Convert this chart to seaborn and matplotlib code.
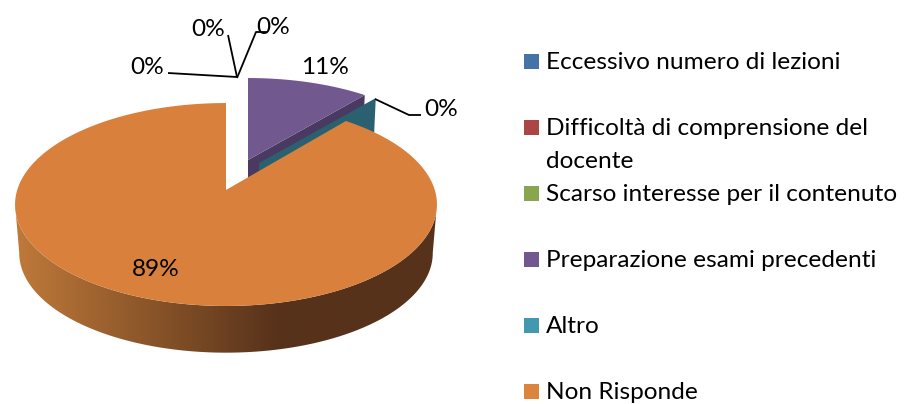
import numpy as np
import seaborn as sns
import matplotlib.pyplot as plt
from matplotlib.colors import LinearSegmentedColormap
from matplotlib.patches import Polygon, Rectangle

categories = ['Eccessivo numero di lezioni', 'Difficoltà di comprensione del\ndocente',
              'Scarso interesse per il contenuto', 'Preparazione esami precedenti',
              'Altro', 'Non Risponde']
percent = [0, 0, 0, 11, 0, 89]
colors = sns.color_palette(['#4572A7', '#AA4643', '#89A54E', '#71588F', '#4198AF', '#DB843D'])

sns.set_theme(style='white')
plt.rcParams['font.family'] = ['Lato', 'DejaVu Sans']

# pie geometry in pixels, the 3d look is a plain perspective squeeze
rx, ry, k = 208.8, 99.4, 0.143
drop, shrink = 49, 0.98
purple_apex = (248, 160)
teal_apex = (259, 163)
orange_apex = (226, 190)
small_r = 0.935
small_wide = 1.035


def project(apex, r, angle, scale=1.0, dz=0, wide=1.0):
    a = np.radians(angle)
    u, v = r * np.sin(a), r * np.cos(a)
    den = 1 + k * v
    return (apex[0] + wide * scale * rx * u / den,
            apex[1] + dz - scale * ry * v / den)


def rim(apex, r, a0, a1, scale=1.0, dz=0, wide=1.0):
    x, y = project(apex, r, np.linspace(a0, a1, 200), scale, dz, wide)
    return np.column_stack([x, y])


def wedge(apex, r, a0, a1, wide=1.0):
    return np.vstack([[apex], rim(apex, r, a0, a1, wide=wide)])


fig = plt.figure(figsize=(9.06, 4.04), dpi=100)
ax = fig.add_axes([0, 0, 1, 1])

starts = np.concatenate([[0], np.cumsum(percent)[:-1]]) * 3.6
ends = np.cumsum(percent) * 3.6

# purple slice, its wall first
p0, p1 = starts[3], ends[3]
edge_top = project(purple_apex, small_r, p1, wide=small_wide)
edge_low = project(purple_apex, small_r, p1, shrink, drop, small_wide)
ax.add_patch(Polygon([purple_apex, edge_top, edge_low,
                      (purple_apex[0], purple_apex[1] + drop)],
                     fc='#4A3960', ec='none', zorder=2))
ax.add_patch(Polygon(wedge(purple_apex, small_r, p0, p1, small_wide),
                     fc=colors[3], ec='none', zorder=3))

# the 0% slice only shows as a wall
t0 = starts[4]
t_top = project(teal_apex, small_r, t0, wide=small_wide)
t_low = project(teal_apex, small_r, t0, shrink, drop, small_wide)
ax.add_patch(Polygon([teal_apex, t_top, t_low, (teal_apex[0], teal_apex[1] + drop)],
                     fc='#2A6070', ec='none', zorder=4))

# orange wall with the gradient, from tangent to tangent
wall = np.vstack([rim(orange_apex, 1, 98, 262),
                  rim(orange_apex, 1, 262, 98, shrink, drop)])
wall_cmap = LinearSegmentedColormap.from_list('wall', ['#C07A3A', '#57321A'])
grad = np.clip(np.linspace(0, 1.6, 400), 0, 1).reshape(1, -1)
img = ax.imshow(grad, cmap=wall_cmap, extent=(14, 436, 404, 0), aspect='auto', zorder=5)
img.set_clip_path(Polygon(wall, transform=ax.transData))

# orange top
o0, o1 = starts[5], ends[5]
ax.add_patch(Polygon(wedge(orange_apex, 1, o0, o1), fc='#D9813C', ec='none', zorder=6))

# data labels and leaders
label_xy = [(147, 67), (208, 29), (273, 27), (325, 67), (441, 109), (156, 269)]
for v, (x, y) in zip(percent, label_xy):
    ax.text(x, y, f'{v}%', ha='center', va='center', fontsize=17.6, color='black', zorder=8)

leaders = [[(168, 73), (237, 77)],
           [(228, 35), (237, 77)],
           [(267, 32), (256, 32), (237, 78)],
           [(375, 99), (409, 115), (421, 115)]]
for pts in leaders:
    xs, ys = zip(*pts)
    ax.plot(xs, ys, color='black', lw=1.3, zorder=7, solid_capstyle='butt')

# legend
legend_y = [61.5, 127.5, 193.5, 259.5, 325.5, 391.5]
for name, c, y in zip(categories, colors, legend_y):
    ax.add_patch(Rectangle((524, y - 7.5), 15, 15, fc=c, ec='none', zorder=8))
    lines = name.split('\n')
    for i, line in enumerate(lines):
        ax.text(546, y + 1 + i * 33, line, ha='left', va='center', fontsize=17.6,
                color='black', zorder=8)

ax.set_xlim(0, 906)
ax.set_ylim(404, 0)
ax.axis('off')
fig.savefig('out.png', dpi=100)
